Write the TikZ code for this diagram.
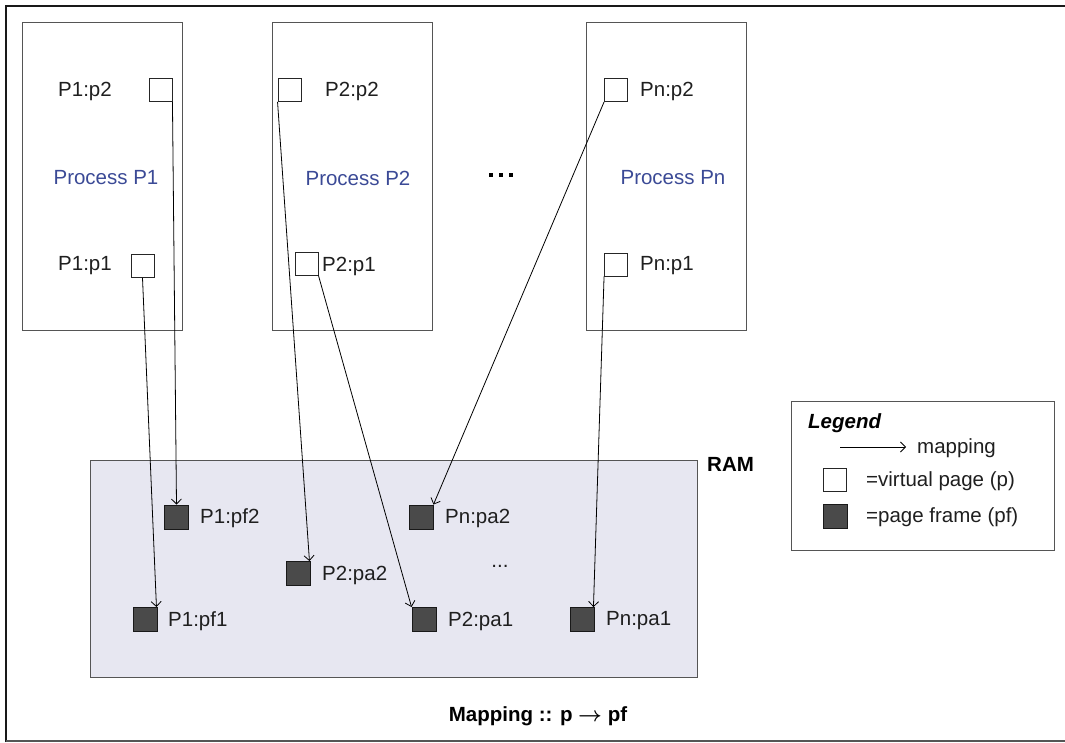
\documentclass[tikz,border=0pt]{standalone}
\usepackage{amsmath}
\usepackage{fontspec}
\setmainfont{Liberation Sans}
\usetikzlibrary{arrows.meta}
\definecolor{procblue}{HTML}{3B4A96}
\definecolor{ramfill}{HTML}{E7E7F1}
\definecolor{framefill}{HTML}{4A4A4A}
\definecolor{edgegrey}{HTML}{555555}
\begin{document}
\begin{tikzpicture}[x=1pt,y=-1pt,
  font=\fontsize{20.5}{24}\selectfont,
  procbox/.style={draw=edgegrey,line width=1pt},
  vpage/.style={draw=black!85,fill=white,line width=0.9pt,minimum size=23pt,inner sep=0pt},
  pframe/.style={draw=black!90,fill=framefill,line width=0.9pt,minimum size=24pt,inner sep=0pt},
  lbl/.style={text=black!88,inner sep=0pt,anchor=west},
  proclbl/.style={text=procblue,inner sep=0pt},
  mapto/.style={draw=black,line width=0.8pt,-{Straight Barb[length=5pt,width=10pt]}}
]
\useasboundingbox (0,0) rectangle (1065,742);

% outer frame
\draw[line width=2.6pt,black!90] (6,742) -- (6,6) -- (1065,6);
\draw[line width=1.2pt,edgegrey] (6,741) -- (1065,741);

% process boxes
\draw[procbox] (22,22) rectangle (182,330);
\draw[procbox] (272,22) rectangle (432,330);
\draw[procbox] (586,22) rectangle (746,330);

\node[proclbl] (nP1) at (106,178) {Process P1};
\node[proclbl] (nP2) at (358,178) {Process P2};
\node[proclbl] (nPn) at (673,178) {Process Pn};
\foreach \dx [count=\i] in {491,501,511}
  \node[fill=black,inner sep=0pt,minimum size=3.6pt] (pdot\i) at (\dx,175) {};

% RAM
\draw[draw=edgegrey,fill=ramfill,line width=1pt] (90,460) rectangle (697,677);
\node[inner sep=0pt,anchor=west] (ram) at (707,464) {\textbf{RAM}};

% virtual pages
\node[vpage] (p12) at (160.5,90) {};
\node[vpage] (p11) at (142.5,266) {};
\node[vpage] (p22) at (289.5,90) {};
\node[vpage] (p21) at (306.5,263.5) {};
\node[vpage] (pn2) at (616,90) {};
\node[vpage] (pn1) at (616,264.5) {};

\node[lbl] (tp12) at (58,91) {P1:p2};
\node[lbl] (tp11) at (58,266) {P1:p1};
\node[lbl] (tp22) at (325,91) {P2:p2};
\node[lbl] (tp21) at (322,266) {P2:p1};
\node[lbl] (tpn2) at (640,91) {Pn:p2};
\node[lbl] (tpn1) at (640,266) {Pn:p1};

% page frames
\node[pframe] (f12) at (176.5,517) {};
\node[pframe] (f22) at (298,573.5) {};
\node[pframe] (f11) at (145,619.5) {};
\node[pframe] (fn2) at (421,517) {};
\node[pframe] (f21) at (424,619.5) {};
\node[pframe] (fn1) at (582,619.5) {};

\node[lbl] (tf12) at (200,518) {P1:pf2};
\node[lbl] (tf22) at (322,575) {P2:pa2};
\node[lbl] (tf11) at (168,621) {P1:pf1};
\node[lbl] (tfn2) at (445,518) {Pn:pa2};
\node[lbl] (tf21) at (448,621) {P2:pa1};
\node[lbl] (tfn1) at (606,621) {Pn:pa1};
\node[text=black!88,inner sep=0pt] (rdots) at (500,566) {...};

% mappings
\draw[mapto] (p12.south east) -- (f12.north);
\draw[mapto] (p11.south) -- ([xshift=-1pt]f11.north east);
\draw[mapto] (p22.south west) -- ([xshift=-1pt]f22.north east);
\draw[mapto] (p21.south east) -- (f21.north west);
\draw[mapto] (pn2.south west) -- (fn2.north east);
\draw[mapto] (pn1.south west) -- ([xshift=-1pt]fn1.north east);

% legend
\draw[draw=edgegrey,line width=1pt] (791,401) rectangle (1054,550);
\node[inner sep=0pt,anchor=west] (lgtitle) at (808,423) {\textbf{\textit{Legend}}};
\coordinate (la) at (840,447);
\coordinate (lb) at (906,447);
\draw[mapto] (la) -- (lb);
\node[lbl] (lgmap) at (917,448) {mapping};
\node[vpage] (lgv) at (835,480) {};
\node[lbl] (lgvt) at (866,481) {=virtual page (p)};
\node[pframe] (lgf) at (835,516) {};
\node[lbl] (lgft) at (866,517) {=page frame (pf)};

% caption
\node[inner sep=0pt] (caption) at (538,716) {\textbf{Mapping :: p $\boldsymbol{\rightarrow}$ pf}};
\end{tikzpicture}
\end{document}
